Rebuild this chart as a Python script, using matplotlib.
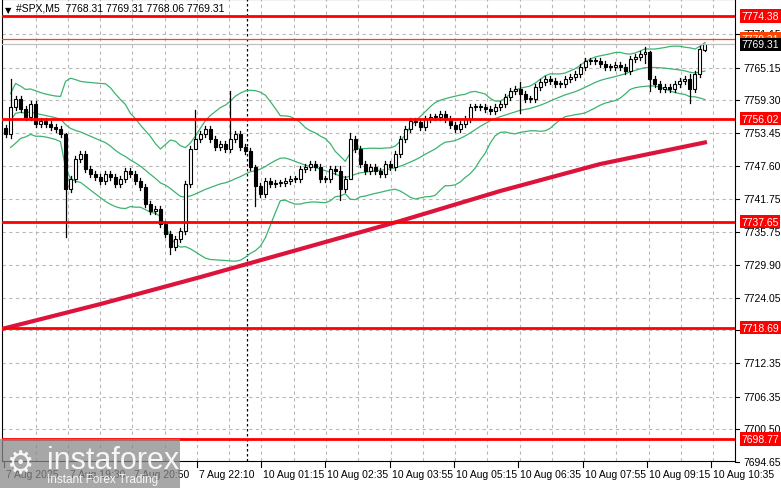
import matplotlib
matplotlib.use("Agg")
import matplotlib.pyplot as plt
import numpy as np
import pandas as pd
from matplotlib.patches import Rectangle

plt.rcParams['font.family'] = ['Liberation Sans', 'DejaVu Sans']

closes = [7753.29,7758.11,7759.54,7757.76,7756.33,7758.65,7755.07,7755.61,7755.07,7754.54,7754.18,7753.29,
          7743.46,7745.24,7748.82,7749.71,7747.03,7746.14,7745.60,7744.88,7746.14,7745.60,7744.35,7745.24,
          7746.67,7746.14,7744.88,7743.81,7740.77,7739.52,7739.88,7737.20,7735.41,7733.09,7734.52,7735.95,
          7744.35,7750.61,7752.39,7753.29,7754.18,7752.39,7750.96,7751.50,7750.61,7752.39,7753.29,7750.96,
          7750.25,7747.39,7743.99,7742.56,7744.88,7744.35,7744.53,7744.53,7744.88,7745.24,7745.24,7747.03,
          7747.39,7747.93,7747.39,7745.24,7745.24,7747.03,7746.67,7743.46,7745.24,7752.39,7750.61,7747.93,
          7746.67,7747.39,7746.67,7746.14,7747.93,7747.39,7749.71,7752.39,7754.18,7755.61,7755.43,7754.54,
          7755.97,7756.33,7756.33,7756.86,7755.97,7754.89,7754.18,7755.07,7755.97,7758.11,7758.11,7758.11,
          7757.76,7757.40,7758.11,7758.65,7759.90,7760.97,7761.33,7760.44,7759.54,7759.54,7761.69,7762.58,
          7763.12,7762.76,7762.23,7762.23,7763.12,7763.48,7764.01,7765.26,7766.34,7766.34,7766.34,7765.80,
          7765.26,7765.26,7765.62,7765.26,7764.55,7766.69,7767.05,7767.59,7767.95,7763.12,7762.23,7761.33,
          7761.69,7761.33,7762.23,7762.76,7763.12,7761.33,7764.01,7768.48,7769.38]
spikes = {1: (7763.1, 7752.5), 12: (7753.5, 7734.9), 33: (7736.0, 7731.8), 45: (7761.0, 7750.0),
          38: (7757.5, 7751.0), 50: (7747.8, 7740.5), 69: (7753.5, 7746.0), 67: (7747.5, 7741.5),
          103: (7762.5, 7757.0), 128: (7768.9, 7766.0), 129: (7768.1, 7761.0), 137: (7764.0, 7758.9),
          140: (7769.4, 7768.06)}
opens = [closes[0] + 1.0] + closes[:-1]
opens[140] = 7768.31

ma_idx = [-0.8, 19, 39, 59, 79, 99, 119, 140.4]
ma_val = [7718.43, 7722.90, 7727.72, 7732.73, 7737.74, 7743.10, 7747.92, 7751.86]

levels = [7774.38, 7756.02, 7737.65, 7718.69, 7698.77]
yticks = [7771.15, 7765.15, 7759.30, 7753.45, 7747.60, 7741.75, 7735.75, 7729.90,
          7724.05, 7718.20, 7712.35, 7706.35, 7700.50, 7694.65]
xlabels = ["7 Aug 2025", "7 Aug 19:30", "7 Aug 20:50", "7 Aug 22:10", "10 Aug 01:15", "10 Aug 02:35",
           "10 Aug 03:55", "10 Aug 05:15", "10 Aug 06:35", "10 Aug 07:55", "10 Aug 09:15", "10 Aug 10:35"]

fig = plt.figure(figsize=(7.81, 4.89), dpi=100)
ax = fig.add_axes([0.002, 0.055, 0.939, 0.945])
ax.set_xlim(-0.8, 146)
ax.set_ylim(7694.83, 7777.42)
for s in ax.spines.values():
    s.set_color("black"); s.set_linewidth(0.8)

for yt in yticks:
    ax.axhline(yt, color="#b8b8b8", lw=0.8, ls=(0, (3, 3)), zorder=0)
for k in range(23):
    ax.axvline(6 + 6.46 * k, color="#b8b8b8", lw=0.8, ls=(0, (3, 3)), zorder=0)
ax.axvline(48.4, color="black", lw=0.9, ls=(0, (2, 2)), zorder=1)

c = pd.Series(closes)
mid = c.rolling(20, min_periods=2).mean()
sd = c.rolling(20, min_periods=2).std(ddof=0)
x = np.arange(len(closes))
for band in (mid, mid + 2 * sd, mid - 2 * sd):
    ax.plot(x, band, color="#3cb371", lw=0.9, zorder=2)

ax.plot(ma_idx, ma_val, color="#dc143c", lw=3, zorder=3, solid_capstyle="butt")

for i, (o, cl) in enumerate(zip(opens, closes)):
    hi, lo = spikes.get(i, (max(o, cl) + 0.6, min(o, cl) - 0.6))
    ax.plot([i, i], [lo, hi], color="black", lw=0.9, zorder=4)
    bull = cl >= o
    b0, h = min(o, cl), max(abs(cl - o), 0.15)
    ax.add_patch(Rectangle((i - 0.3, b0), 0.6, h, facecolor="white" if bull else "black",
                           edgecolor="black", lw=0.8, zorder=5))

for lv in levels:
    ax.axhline(lv, color="#ff0000", lw=2, zorder=6)
ax.axhline(7770.31, color="#ff4500", lw=0.9, zorder=6)
ax.axhline(7769.31, color="#c0c0c0", lw=0.9, zorder=6)

ax.set_yticks([])
ax.set_xticks([])
tr = ax.get_yaxis_transform()
FS = 7.5
for yt in yticks:
    ax.plot([1.0, 1.006], [yt, yt], transform=tr, color="black", lw=0.8, clip_on=False)
    ax.text(1.012, yt, f"{yt:.2f}", transform=tr, va="center", ha="left", fontsize=FS, clip_on=False)
def box(val, fc, tc="white"):
    ax.text(1.009, val, f"{val:.2f}", transform=tr, va="center", ha="left", fontsize=FS, color=tc,
            bbox=dict(boxstyle="square,pad=0.15", fc=fc, ec="none"), clip_on=False, zorder=10)
box(7770.31, "#ff4500")
for lv in levels:
    box(lv, "#ff0000")
box(7769.31, "black")

for k, lab in enumerate(xlabels):
    xi = -0.4 + 12.88 * k
    ax.plot([xi, xi], [0, -0.012], transform=ax.get_xaxis_transform(), color="black", lw=0.8, clip_on=False)
    ax.text(xi + 0.4, -0.018, lab, transform=ax.get_xaxis_transform(), ha="left", va="top",
            fontsize=FS, clip_on=False)

ax.text(0.004, 0.988, "▼", transform=ax.transAxes, fontsize=6, va="top", ha="left", zorder=11,
        family="DejaVu Sans")
ax.text(0.02, 0.992, "#SPX,M5  7768.31 7769.31 7768.06 7769.31", transform=ax.transAxes,
        fontsize=FS, va="top", ha="left", zorder=11)

fig.patches.append(Rectangle((0, 0), 180 / 781, 49 / 489, transform=fig.transFigure,
                             facecolor="#8a8a8a", alpha=0.75, zorder=20))
fig.text(0.06, 0.058, "instaforex", fontsize=22, color="white", alpha=0.9, zorder=21, va="center")
fig.text(0.06, 0.018, "Instant Forex Trading", fontsize=8.5, color="white", alpha=0.9, zorder=21, va="center")
fig.text(0.008, 0.05, "⚙", fontsize=22, color="white", alpha=0.9, zorder=21, va="center",
         family="DejaVu Sans")

fig.savefig("out.png", dpi=100)
